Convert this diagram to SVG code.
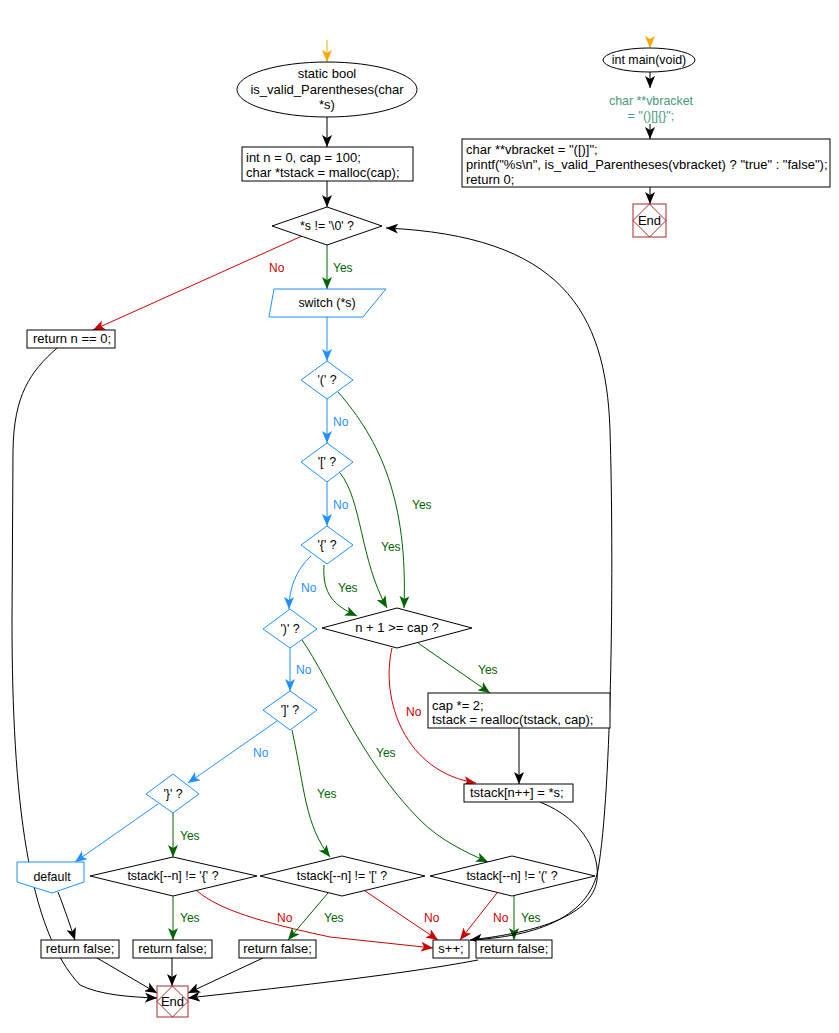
<svg xmlns="http://www.w3.org/2000/svg" width="839" height="1033" viewBox="0 0 839 1033">
<style>
text{font-family:"Liberation Sans",Arial,sans-serif;font-size:13px;fill:#000}
.c{text-anchor:middle}
.d{font-size:12.4px}
.l{font-size:12px}
.bx{fill:#fff;stroke:#000;stroke-width:1}
.bd{fill:#fff;stroke:#1e90ff;stroke-width:1}
.kd{fill:#fff;stroke:#000;stroke-width:1}
.end{fill:#fff;stroke:#a52a2a;stroke-width:1}
.endd{fill:none;stroke:#a52a2a;stroke-width:1}
.k{fill:none;stroke:#000;stroke-width:1}
.r{fill:none;stroke:#cc0000;stroke-width:1}
.g{fill:none;stroke:#006400;stroke-width:1}
.b{fill:none;stroke:#1e90ff;stroke-width:1}
.o{fill:none;stroke:#ffa500;stroke-width:1}
.lr{fill:#cc0000}
.lg{fill:#006400}
.lb{fill:#1e90ff}
.cm{fill:#4a9a7c}
</style>
<defs>
<marker id="ak" viewBox="0 0 12 10" refX="12" refY="5" markerWidth="12" markerHeight="10" orient="auto" markerUnits="userSpaceOnUse"><path d="M0,0 L12,5 L0,10 L3,5 z" fill="#000"/></marker>
<marker id="ar" viewBox="0 0 12 10" refX="12" refY="5" markerWidth="12" markerHeight="10" orient="auto" markerUnits="userSpaceOnUse"><path d="M0,0 L12,5 L0,10 L3,5 z" fill="#cc0000"/></marker>
<marker id="ag" viewBox="0 0 12 10" refX="12" refY="5" markerWidth="12" markerHeight="10" orient="auto" markerUnits="userSpaceOnUse"><path d="M0,0 L12,5 L0,10 L3,5 z" fill="#006400"/></marker>
<marker id="ab" viewBox="0 0 12 10" refX="12" refY="5" markerWidth="12" markerHeight="10" orient="auto" markerUnits="userSpaceOnUse"><path d="M0,0 L12,5 L0,10 L3,5 z" fill="#1e90ff"/></marker>
<marker id="ao" viewBox="0 0 12 10" refX="12" refY="5" markerWidth="12" markerHeight="10" orient="auto" markerUnits="userSpaceOnUse"><path d="M0,0 L12,5 L0,10 L3,5 z" fill="#ffa500"/></marker>
</defs>

<g id="connectors">
<path class="o" d="M327 40 L327 62" marker-end="url(#ao)"/>
<path class="k" d="M327 117 L327 147" marker-end="url(#ak)"/>
<path class="k" d="M327 181 L327 207" marker-end="url(#ak)"/>
<path class="g" d="M327 245 L327 289" marker-end="url(#ag)"/>
<path class="r" d="M302 236 L93 330" marker-end="url(#ar)"/>
<path class="b" d="M327 317 L327 361" marker-end="url(#ab)"/>
<path class="b" d="M327 399 L327 443" marker-end="url(#ab)"/>
<path class="b" d="M327 482 L327 526" marker-end="url(#ab)"/>
<path class="b" d="M311 556 C 296 570, 289 588, 289 609" marker-end="url(#ab)"/>
<path class="b" d="M290 648 L290 691" marker-end="url(#ab)"/>
<path class="b" d="M277 721 L188 783" marker-end="url(#ab)"/>
<path class="b" d="M158 804 L75 862" marker-end="url(#ab)"/>
<path class="g" d="M173 813 L173 857" marker-end="url(#ag)"/>
<path class="g" d="M338 392 C 380 440, 408 500, 404 608" marker-end="url(#ag)"/>
<path class="g" d="M340 473 C 362 500, 360 560, 387 608" marker-end="url(#ag)"/>
<path class="g" d="M324 565 C 322 595, 335 606, 357 616" marker-end="url(#ag)"/>
<path class="g" d="M418 643 L490 693" marker-end="url(#ag)"/>
<path class="r" d="M392 648 C 380 700, 405 772, 476 783" marker-end="url(#ar)"/>
<path class="k" d="M519 728 L519 784" marker-end="url(#ak)"/>
<path class="g" d="M302 640 C 330 680, 360 760, 420 820 C 440 840, 465 852, 488 862" marker-end="url(#ag)"/>
<path class="g" d="M292 730 C 305 790, 305 825, 330 857" marker-end="url(#ag)"/>
<path class="k" d="M58 892 C 65 910, 70 925, 75 940" marker-end="url(#ak)"/>
<path class="g" d="M173 896 L173 940" marker-end="url(#ag)"/>
<path class="r" d="M197 891 C 220 910, 260 922, 330 937 L433 948" marker-end="url(#ar)"/>
<path class="g" d="M328 893 L288 940" marker-end="url(#ag)"/>
<path class="r" d="M365 891 L438 940" marker-end="url(#ar)"/>
<path class="r" d="M497 893 L460 940" marker-end="url(#ar)"/>
<path class="g" d="M514 896 L514 940" marker-end="url(#ag)"/>
<path class="k" d="M97 958 L157 993" marker-end="url(#ak)"/>
<path class="k" d="M172 958 L172 986" marker-end="url(#ak)"/>
<path class="k" d="M263 958 L188 993" marker-end="url(#ak)"/>
<path class="k" d="M478 960 C 400 975, 260 990, 188 998" marker-end="url(#ak)"/>
<path class="k" d="M57 348 C 30 372, 14 395, 13 450 L 12 620 C 12 800, 28 930, 80 985 C 100 995, 130 997, 157 998" marker-end="url(#ak)"/>
<path class="k" d="M540 802 C 585 820, 600 855, 597 880 C 592 915, 540 932, 470 940" marker-end="url(#ak)"/>
<path class="k" d="M470 940 C 550 936, 590 910, 598 870 C 612 790, 614 560, 610 430 C 606 310, 560 236, 386 228" marker-end="url(#ak)"/>
<path class="o" d="M650 40 L650 48" marker-end="url(#ao)"/>
<path class="k" d="M650 72 L650 88" marker-end="url(#ak)"/>
<path class="k" d="M650 124 L650 139" marker-end="url(#ak)"/>
<path class="k" d="M650 187 L650 204" marker-end="url(#ak)"/>
</g>

<g id="labels">
<text x="269" y="272" class="l lr">No</text>
<text x="333" y="272" class="l lg">Yes</text>
<text x="333" y="426" class="l lb">No</text>
<text x="333" y="509" class="l lb">No</text>
<text x="301" y="592" class="l lb">No</text>
<text x="338" y="592" class="l lg">Yes</text>
<text x="381" y="551" class="l lg">Yes</text>
<text x="412" y="509" class="l lg">Yes</text>
<text x="478" y="674" class="l lg">Yes</text>
<text x="406" y="716" class="l lr">No</text>
<text x="296" y="674" class="l lb">No</text>
<text x="376" y="757" class="l lg">Yes</text>
<text x="253" y="757" class="l lb">No</text>
<text x="317" y="798" class="l lg">Yes</text>
<text x="180" y="840" class="l lg">Yes</text>
<text x="180" y="922" class="l lg">Yes</text>
<text x="277" y="922" class="l lr">No</text>
<text x="324" y="922" class="l lg">Yes</text>
<text x="424" y="922" class="l lr">No</text>
<text x="493" y="922" class="l lr">No</text>
<text x="521" y="922" class="l lg">Yes</text>
</g>

<g id="start">
<ellipse cx="327" cy="89.5" rx="90" ry="27.5" class="kd"/>
<text x="327" y="78" class="c">static bool</text>
<text x="327" y="94" class="c">is_valid_Parentheses(char</text>
<text x="327" y="109" class="c">*s)</text>
</g>
<g id="init">
<rect x="242" y="147" width="171" height="34" class="bx"/>
<text x="246" y="162">int n = 0, cap = 100;</text>
<text x="246" y="177">char *tstack = malloc(cap);</text>
</g>
<g id="loop">
<polygon points="327,207 382,226 327,245 272,226" class="kd"/>
<text x="327" y="230" class="c d">*s != '\0' ?</text>
</g>
<g id="switch">
<polygon points="274,289 386,289 363,317 269,317" class="bd"/>
<text x="327" y="307" class="c d">switch (*s)</text>
</g>
<g id="retn">
<rect x="27" y="330" width="88" height="18" class="bx"/>
<text x="33" y="343">return n == 0;</text>
</g>
<g id="c1">
<polygon points="327,361 353,380 327,399 301,380" class="bd"/>
<text x="327" y="384" class="c d">'(' ?</text>
</g>
<g id="c2">
<polygon points="327,443 353,462 327,482 301,462" class="bd"/>
<text x="327" y="466" class="c d">'[' ?</text>
</g>
<g id="c3">
<polygon points="327,526 353,545 327,564 301,545" class="bd"/>
<text x="327" y="549" class="c d">'{' ?</text>
</g>
<g id="c4">
<polygon points="290,609 317,629 290,648 263,629" class="bd"/>
<text x="290" y="633" class="c d">')' ?</text>
</g>
<g id="c5">
<polygon points="290,691 317,710 290,730 263,710" class="bd"/>
<text x="290" y="714" class="c d">']' ?</text>
</g>
<g id="c6">
<polygon points="173,774 199,794 173,813 146,794" class="bd"/>
<text x="173" y="798" class="c d">'}' ?</text>
</g>
<g id="capcheck">
<polygon points="397,608 472,628 397,648 322,628" class="kd"/>
<text x="397" y="632" class="c">n + 1 &gt;= cap ?</text>
</g>
<g id="grow">
<rect x="428" y="693" width="182" height="35" class="bx"/>
<text x="432" y="710">cap *= 2;</text>
<text x="432" y="724">tstack = realloc(tstack, cap);</text>
</g>
<g id="push">
<rect x="464" y="784" width="109" height="18" class="bx"/>
<text x="470" y="797">tstack[n++] = *s;</text>
</g>
<g id="pop3">
<polygon points="173,857 257,876 173,896 90,876" class="kd"/>
<text x="173" y="880" class="c d">tstack[--n] != '{' ?</text>
</g>
<g id="pop2">
<polygon points="342,856 425,876 342,896 260,876" class="kd"/>
<text x="342" y="880" class="c d">tstack[--n] != '[' ?</text>
</g>
<g id="pop1">
<polygon points="512,856 595,876 512,896 430,876" class="kd"/>
<text x="512" y="880" class="c d">tstack[--n] != '(' ?</text>
</g>
<g id="default">
<polygon points="17,862 84,862 84,882 52,893 17,882" class="bd"/>
<text x="52" y="881" class="c d">default</text>
</g>
<g id="rf1">
<rect x="41" y="940" width="78" height="18" class="bx"/>
<text x="80" y="953" class="c">return false;</text>
</g>
<g id="rf2">
<rect x="133" y="940" width="79" height="18" class="bx"/>
<text x="172.5" y="953" class="c">return false;</text>
</g>
<g id="rf3">
<rect x="239" y="940" width="77" height="18" class="bx"/>
<text x="277.5" y="953" class="c">return false;</text>
</g>
<g id="inc">
<rect x="433" y="940" width="36" height="18" class="bx"/>
<text x="451" y="953" class="c">s++;</text>
</g>
<g id="rf4">
<rect x="476" y="940" width="76" height="18" class="bx"/>
<text x="514" y="953" class="c">return false;</text>
</g>
<g id="end1">
<rect x="157" y="986" width="31" height="31" class="end"/>
<polygon points="172.5,986 188,1001.5 172.5,1017 157,1001.5" class="endd"/>
<text x="172.5" y="1006" class="c">End</text>
</g>

<g id="main">
<ellipse cx="649" cy="60" rx="46" ry="12" class="kd"/>
<text x="649" y="64" class="c d">int main(void)</text>
</g>
<g id="comment">
<text x="651" y="105" class="c cm d">char **vbracket</text>
<text x="651" y="120" class="c cm d">= "()[]{}";</text>
</g>
<g id="mainbody">
<rect x="462" y="139" width="368" height="48" class="bx"/>
<text x="466" y="154">char **vbracket = "([)]";</text>
<text x="466" y="169">printf("%s\n", is_valid_Parentheses(vbracket) ? "true" : "false");</text>
<text x="466" y="184">return 0;</text>
</g>
<g id="end2">
<rect x="633" y="204" width="33" height="33" class="end"/>
<polygon points="649.5,204 666,220.5 649.5,237 633,220.5" class="endd"/>
<text x="649.5" y="225" class="c">End</text>
</g>
</svg>
